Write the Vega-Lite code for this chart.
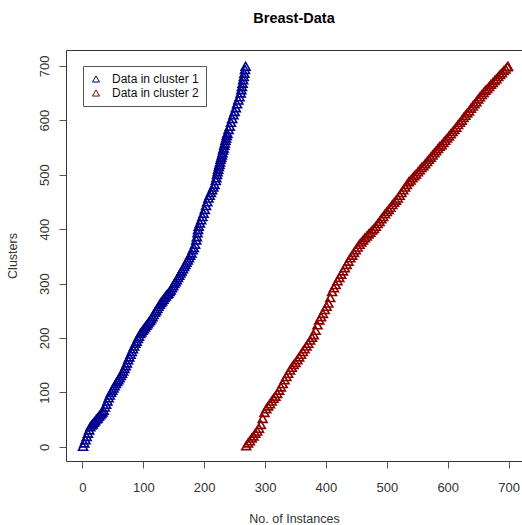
{
  "$schema": "https://vega.github.io/schema/vega-lite/v6.json",
  "width": 456,
  "height": 411,
  "autosize": {"type": "none"},
  "padding": {"left": 66, "top": 50, "right": 0, "bottom": 64},
  "background": "white",
  "title": {"text": "Breast-Data", "font": "Liberation Sans", "fontSize": 14.5, "fontWeight": "bold", "color": "#000", "anchor": "middle", "offset": 24},
  "config": {
    "view": {"stroke": "#333", "strokeWidth": 1},
    "axis": {"grid": false, "domain": false, "tickSize": 7, "tickColor": "#555", "labelFont": "Liberation Sans", "labelFontSize": 13, "labelColor": "#333", "titleFont": "Liberation Sans", "titleFontSize": 12.5, "titleFontWeight": "normal", "titleColor": "#333", "labelOverlap": false, "labelFlush": false},
    "legend": {"labelFont": "Liberation Sans"}
  },
  "data": {"values": [
    {"x":1,"y":1,"c":1},{"x":3,"y":7,"c":1},{"x":5,"y":13,"c":1},{"x":7,"y":19,"c":1},{"x":9,"y":25,"c":1},{"x":11,"y":31,"c":1},{"x":13,"y":37,"c":1},{"x":15,"y":40,"c":1},{"x":17,"y":42,"c":1},{"x":19,"y":45,"c":1},{"x":21,"y":48,"c":1},{"x":23,"y":51,"c":1},{"x":25,"y":53,"c":1},{"x":27,"y":56,"c":1},{"x":29,"y":59,"c":1},{"x":31,"y":61,"c":1},{"x":33,"y":64,"c":1},{"x":35,"y":67,"c":1},{"x":37,"y":73,"c":1},{"x":39,"y":78,"c":1},{"x":41,"y":84,"c":1},{"x":43,"y":90,"c":1},{"x":45,"y":95,"c":1},{"x":47,"y":100,"c":1},{"x":49,"y":104,"c":1},{"x":51,"y":108,"c":1},{"x":53,"y":112,"c":1},{"x":55,"y":116,"c":1},{"x":57,"y":120,"c":1},{"x":59,"y":123,"c":1},{"x":61,"y":127,"c":1},{"x":63,"y":131,"c":1},{"x":65,"y":135,"c":1},{"x":67,"y":139,"c":1},{"x":69,"y":144,"c":1},{"x":71,"y":149,"c":1},{"x":73,"y":154,"c":1},{"x":75,"y":160,"c":1},{"x":77,"y":165,"c":1},{"x":79,"y":170,"c":1},{"x":81,"y":175,"c":1},{"x":83,"y":180,"c":1},{"x":85,"y":185,"c":1},{"x":87,"y":190,"c":1},{"x":89,"y":194,"c":1},{"x":91,"y":199,"c":1},{"x":93,"y":203,"c":1},{"x":95,"y":208,"c":1},{"x":97,"y":211,"c":1},{"x":99,"y":214,"c":1},{"x":101,"y":217,"c":1},{"x":103,"y":220,"c":1},{"x":105,"y":223,"c":1},{"x":107,"y":226,"c":1},{"x":109,"y":229,"c":1},{"x":111,"y":232,"c":1},{"x":113,"y":235,"c":1},{"x":115,"y":239,"c":1},{"x":117,"y":243,"c":1},{"x":119,"y":247,"c":1},{"x":121,"y":250,"c":1},{"x":123,"y":254,"c":1},{"x":125,"y":258,"c":1},{"x":127,"y":262,"c":1},{"x":129,"y":265,"c":1},{"x":131,"y":268,"c":1},{"x":133,"y":271,"c":1},{"x":135,"y":274,"c":1},{"x":137,"y":277,"c":1},{"x":139,"y":280,"c":1},{"x":141,"y":282,"c":1},{"x":143,"y":285,"c":1},{"x":145,"y":288,"c":1},{"x":147,"y":292,"c":1},{"x":149,"y":296,"c":1},{"x":151,"y":300,"c":1},{"x":153,"y":303,"c":1},{"x":155,"y":307,"c":1},{"x":157,"y":311,"c":1},{"x":159,"y":315,"c":1},{"x":161,"y":319,"c":1},{"x":163,"y":323,"c":1},{"x":165,"y":327,"c":1},{"x":167,"y":331,"c":1},{"x":169,"y":335,"c":1},{"x":171,"y":339,"c":1},{"x":173,"y":343,"c":1},{"x":175,"y":347,"c":1},{"x":177,"y":352,"c":1},{"x":179,"y":356,"c":1},{"x":181,"y":362,"c":1},{"x":183,"y":366,"c":1},{"x":185,"y":372,"c":1},{"x":187,"y":380,"c":1},{"x":188,"y":386,"c":1},{"x":189,"y":393,"c":1},{"x":190,"y":399,"c":1},{"x":191,"y":405,"c":1},{"x":193,"y":411,"c":1},{"x":195,"y":417,"c":1},{"x":197,"y":423,"c":1},{"x":199,"y":429,"c":1},{"x":201,"y":436,"c":1},{"x":203,"y":443,"c":1},{"x":205,"y":450,"c":1},{"x":207,"y":457,"c":1},{"x":209,"y":462,"c":1},{"x":211,"y":467,"c":1},{"x":213,"y":472,"c":1},{"x":215,"y":477,"c":1},{"x":217,"y":482,"c":1},{"x":219,"y":489,"c":1},{"x":220,"y":494,"c":1},{"x":221,"y":500,"c":1},{"x":222,"y":505,"c":1},{"x":223,"y":510,"c":1},{"x":224,"y":515,"c":1},{"x":225,"y":519,"c":1},{"x":226,"y":523,"c":1},{"x":227,"y":528,"c":1},{"x":228,"y":532,"c":1},{"x":229,"y":536,"c":1},{"x":230,"y":540,"c":1},{"x":231,"y":545,"c":1},{"x":232,"y":549,"c":1},{"x":233,"y":554,"c":1},{"x":234,"y":558,"c":1},{"x":235,"y":563,"c":1},{"x":236,"y":567,"c":1},{"x":237,"y":572,"c":1},{"x":238,"y":576,"c":1},{"x":240,"y":583,"c":1},{"x":242,"y":589,"c":1},{"x":244,"y":596,"c":1},{"x":246,"y":603,"c":1},{"x":248,"y":610,"c":1},{"x":250,"y":616,"c":1},{"x":252,"y":623,"c":1},{"x":254,"y":630,"c":1},{"x":256,"y":637,"c":1},{"x":258,"y":643,"c":1},{"x":260,"y":650,"c":1},{"x":261,"y":656,"c":1},{"x":262,"y":662,"c":1},{"x":263,"y":668,"c":1},{"x":264,"y":674,"c":1},{"x":265,"y":680,"c":1},{"x":266,"y":686,"c":1},{"x":267,"y":693,"c":1},{"x":268,"y":699,"c":1},
    {"x":269,"y":2,"c":2},{"x":272,"y":7,"c":2},{"x":275,"y":11,"c":2},{"x":278,"y":16,"c":2},{"x":281,"y":20,"c":2},{"x":284,"y":25,"c":2},{"x":287,"y":29,"c":2},{"x":290,"y":34,"c":2},{"x":293,"y":41,"c":2},{"x":296,"y":52,"c":2},{"x":299,"y":63,"c":2},{"x":302,"y":70,"c":2},{"x":305,"y":75,"c":2},{"x":308,"y":79,"c":2},{"x":311,"y":84,"c":2},{"x":314,"y":89,"c":2},{"x":317,"y":93,"c":2},{"x":320,"y":98,"c":2},{"x":323,"y":104,"c":2},{"x":326,"y":110,"c":2},{"x":329,"y":116,"c":2},{"x":332,"y":123,"c":2},{"x":335,"y":129,"c":2},{"x":338,"y":135,"c":2},{"x":341,"y":141,"c":2},{"x":344,"y":146,"c":2},{"x":347,"y":151,"c":2},{"x":350,"y":155,"c":2},{"x":353,"y":160,"c":2},{"x":356,"y":165,"c":2},{"x":359,"y":170,"c":2},{"x":362,"y":175,"c":2},{"x":365,"y":180,"c":2},{"x":368,"y":185,"c":2},{"x":371,"y":190,"c":2},{"x":374,"y":196,"c":2},{"x":377,"y":201,"c":2},{"x":380,"y":206,"c":2},{"x":383,"y":214,"c":2},{"x":386,"y":224,"c":2},{"x":389,"y":233,"c":2},{"x":392,"y":239,"c":2},{"x":395,"y":245,"c":2},{"x":398,"y":252,"c":2},{"x":401,"y":258,"c":2},{"x":404,"y":264,"c":2},{"x":407,"y":274,"c":2},{"x":410,"y":285,"c":2},{"x":413,"y":292,"c":2},{"x":416,"y":298,"c":2},{"x":419,"y":305,"c":2},{"x":422,"y":311,"c":2},{"x":425,"y":317,"c":2},{"x":428,"y":323,"c":2},{"x":431,"y":329,"c":2},{"x":434,"y":335,"c":2},{"x":437,"y":341,"c":2},{"x":440,"y":347,"c":2},{"x":443,"y":352,"c":2},{"x":446,"y":357,"c":2},{"x":449,"y":362,"c":2},{"x":452,"y":367,"c":2},{"x":455,"y":372,"c":2},{"x":458,"y":376,"c":2},{"x":461,"y":380,"c":2},{"x":464,"y":384,"c":2},{"x":467,"y":387,"c":2},{"x":470,"y":391,"c":2},{"x":473,"y":394,"c":2},{"x":476,"y":398,"c":2},{"x":479,"y":401,"c":2},{"x":482,"y":405,"c":2},{"x":485,"y":410,"c":2},{"x":488,"y":414,"c":2},{"x":491,"y":419,"c":2},{"x":494,"y":423,"c":2},{"x":497,"y":428,"c":2},{"x":500,"y":432,"c":2},{"x":503,"y":436,"c":2},{"x":506,"y":440,"c":2},{"x":509,"y":445,"c":2},{"x":512,"y":449,"c":2},{"x":515,"y":453,"c":2},{"x":518,"y":457,"c":2},{"x":521,"y":462,"c":2},{"x":524,"y":467,"c":2},{"x":527,"y":472,"c":2},{"x":530,"y":477,"c":2},{"x":533,"y":482,"c":2},{"x":536,"y":487,"c":2},{"x":539,"y":490,"c":2},{"x":542,"y":494,"c":2},{"x":545,"y":498,"c":2},{"x":548,"y":501,"c":2},{"x":551,"y":505,"c":2},{"x":554,"y":509,"c":2},{"x":557,"y":513,"c":2},{"x":560,"y":516,"c":2},{"x":563,"y":520,"c":2},{"x":566,"y":524,"c":2},{"x":569,"y":528,"c":2},{"x":572,"y":532,"c":2},{"x":575,"y":536,"c":2},{"x":578,"y":540,"c":2},{"x":581,"y":544,"c":2},{"x":584,"y":548,"c":2},{"x":587,"y":552,"c":2},{"x":590,"y":555,"c":2},{"x":593,"y":559,"c":2},{"x":596,"y":563,"c":2},{"x":599,"y":567,"c":2},{"x":602,"y":571,"c":2},{"x":605,"y":575,"c":2},{"x":608,"y":579,"c":2},{"x":611,"y":583,"c":2},{"x":614,"y":587,"c":2},{"x":617,"y":592,"c":2},{"x":620,"y":596,"c":2},{"x":623,"y":600,"c":2},{"x":626,"y":605,"c":2},{"x":629,"y":609,"c":2},{"x":632,"y":613,"c":2},{"x":635,"y":617,"c":2},{"x":638,"y":622,"c":2},{"x":641,"y":626,"c":2},{"x":644,"y":630,"c":2},{"x":647,"y":634,"c":2},{"x":650,"y":639,"c":2},{"x":653,"y":643,"c":2},{"x":656,"y":647,"c":2},{"x":659,"y":651,"c":2},{"x":662,"y":655,"c":2},{"x":665,"y":658,"c":2},{"x":668,"y":662,"c":2},{"x":671,"y":666,"c":2},{"x":674,"y":669,"c":2},{"x":677,"y":673,"c":2},{"x":680,"y":676,"c":2},{"x":683,"y":680,"c":2},{"x":686,"y":684,"c":2},{"x":689,"y":687,"c":2},{"x":692,"y":691,"c":2},{"x":695,"y":694,"c":2},{"x":698,"y":698,"c":2},{"x":699,"y":699,"c":2}
  ]},
  "mark": {"type": "point", "shape": "triangle-up", "filled": false, "size": 80, "strokeWidth": 1.6, "opacity": 1},
  "encoding": {
    "x": {"field": "x", "type": "quantitative", "scale": {"domain": [-27, 722], "nice": false, "zero": false},
      "axis": {"title": "No. of Instances", "values": [0, 100, 200, 300, 400, 500, 600, 700], "labelPadding": 13, "titleY": 57, "titleBaseline": "middle"}},
    "y": {"field": "y", "type": "quantitative", "scale": {"domain": [-26, 729], "nice": false, "zero": false},
      "axis": {"title": "Clusters", "values": [0, 100, 200, 300, 400, 500, 600, 700], "labelAngle": 270, "labelAlign": "center", "labelBaseline": "bottom", "labelPadding": 8, "titleX": -54, "titleY": 205.5, "titleAngle": 270, "titleAlign": "center", "titleBaseline": "middle"}},
    "color": {"field": "c", "type": "nominal", "scale": {"domain": [1, 2], "range": ["#00008B", "#8B0000"]},
      "legend": {"orient": "none", "legendX": 17, "legendY": 16, "title": null, "direction": "vertical", "strokeColor": "#555", "fillColor": "white", "padding": 7, "cornerRadius": 0, "labelFontSize": 12, "labelColor": "#111", "labelOffset": 10, "rowPadding": 2, "symbolSize": 50, "symbolStrokeWidth": 1, "symbolStrokeColor": "#4a4050", "symbolType": "triangle-up", "labelExpr": "'Data in cluster ' + datum.label"}}
  }
}
